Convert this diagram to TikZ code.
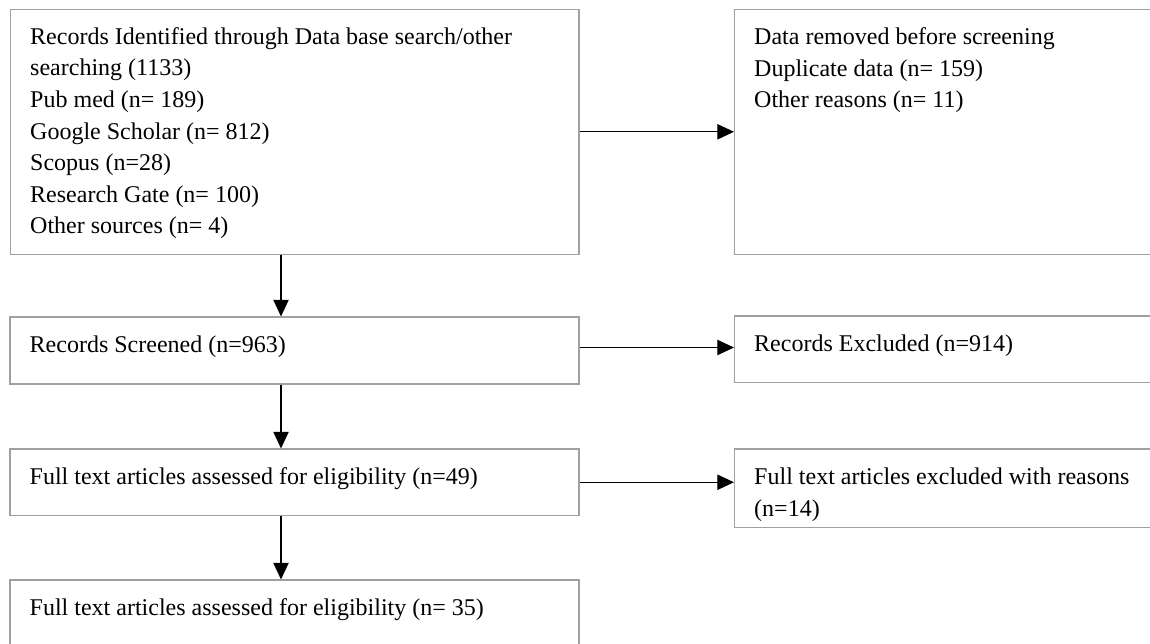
\documentclass[tikz,border=0pt]{standalone}
\usepackage{fontspec}
\setmainfont{Liberation Serif}
\usetikzlibrary{arrows.meta,calc,fit}
\definecolor{boxgray}{RGB}{160,160,160}
\tikzset{
  box/.style={draw=boxgray, line width=0.8pt, inner sep=0pt, fill=none},
  txt/.style={inner sep=0pt, anchor=base west, font=\fontsize{18pt}{23.7pt}\selectfont},
  arr/.style={draw=black, line width=0.9pt, -{Triangle[length=12.5pt,width=11.5pt]}}
}
\begin{document}
\begin{tikzpicture}[x=0.75pt,y=-0.75pt]
\useasboundingbox (0,0) rectangle (1150,643);
\clip (0,0) rectangle (1150,643);
\fill[white] (0,0) rectangle (1150,643);
% boxes
\node[box, fit={(10.5,9.3) (579,254.3)}] (b1) {};
\node[box, fit={(734.5,9.3) (1160,254.3)}] (b2) {};
\node[box, fit={(10,317) (579,384)}] (b3) {};
\node[box, fit={(734.5,316) (1160,382.5)}] (b4) {};
\node[box, fit={(10,449) (579,515.5)}] (b5) {};
\node[box, fit={(734.5,449) (1160,527.7)}] (b6) {};
\node[box, fit={(10,580) (579,647)}] (b7) {};
% texts
\node[txt] (t1) at ($(b1.north west)+(20,35.5)$) {\begin{tabular}[t]{@{}l@{}}Records Identified through Data base search/other\\ searching (1133)\\ Pub med (n= 189)\\ Google Scholar (n= 812)\\ Scopus (n=28)\\ Research Gate (n= 100)\\ Other sources (n= 4)\end{tabular}};
\node[txt] (t2) at ($(b2.north west)+(20,36)$) {\begin{tabular}[t]{@{}l@{}}Data removed before screening\\ Duplicate data (n= 159)\\ Other reasons (n= 11)\end{tabular}};
\node[txt] (t3) at ($(b3.north west)+(20,36.5)$) {Records Screened (n=963)};
\node[txt] (t4) at ($(b4.north west)+(20,36.5)$) {Records Excluded (n=914)};
\node[txt] (t5) at ($(b5.north west)+(20,36)$) {Full text articles assessed for eligibility (n=49)};
\node[txt] (t6) at ($(b6.north west)+(20,36)$) {\begin{tabular}[t]{@{}l@{}}Full text articles excluded with reasons\\ (n=14)\end{tabular}};
\node[txt] (t7) at ($(b7.north west)+(20,36)$) {Full text articles assessed for eligibility (n= 35)};
% connectors
\coordinate (ax) at (281,0);
\draw[arr] (b1.south -| ax) -- (b3.north -| ax);
\draw[arr] (b3.south -| ax) -- (b5.north -| ax);
\draw[arr] (b5.south -| ax) -- (b7.north -| ax);
\draw[arr] (b1.east) -- (b1.east -| b2.west);
\draw[arr] ($(b3.east)+(0,-3)$) -- ($(b3.east -| b4.west)+(0,-3)$);
\draw[arr] (b5.east) -- (b5.east -| b6.west);
\end{tikzpicture}
\end{document}
